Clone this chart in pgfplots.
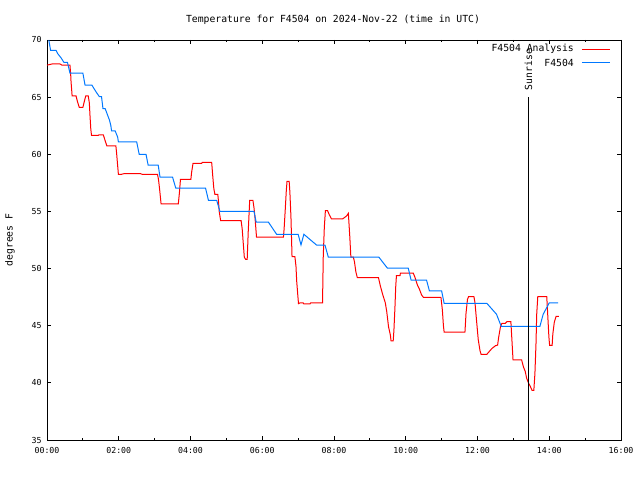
\documentclass[border=0pt]{standalone}
\usepackage{fontspec}
\setmainfont{DejaVu Sans Mono}
\usepackage{pgfplots}
\pgfplotsset{compat=1.18}
\definecolor{anred}{RGB}{255,0,0}
\definecolor{obsblue}{RGB}{0,120,255}
\begin{document}
\begin{tikzpicture}[x=1bp,y=1bp]
\useasboundingbox (0,0) rectangle (640,480);
\node[font=\fontsize{9.8}{11}\selectfont] at (333,460) {Temperature for F4504 on 2024-Nov-22 (time in UTC)};
\node[font=\fontsize{9.8}{11}\selectfont, rotate=90] at (10,240) {degrees F};
\begin{axis}[
  at={(47bp,40bp)}, anchor=south west,
  scale only axis, width=574bp, height=400bp,
  xmin=0, xmax=16, ymin=35, ymax=70,
  axis line style={black, line width=0.8bp},
  xtick={0,2,4,6,8,10,12,14,16},
  xticklabels={00:00,02:00,04:00,06:00,08:00,10:00,12:00,14:00,16:00},
  minor xtick={1,3,5,7,9,11,13,15},
  ytick={35,40,45,50,55,60,65,70},
  tick align=inside,
  major tick length=4bp, minor tick length=2bp,
  tick style={black, line width=0.8bp},
  /pgf/number format/assume math mode=true,
  tick label style={font=\fontsize{8.3}{9}\selectfont},
  xticklabel style={yshift=-4bp},
  yticklabel style={xshift=-2bp},
  clip=false,
]
\addplot[anred, line width=1bp] coordinates {
(0,67.8)(0.14,67.9)(0.36,67.9)(0.42,67.8)(0.64,67.8)(0.66,67.0)(0.67,66.35)(0.69,65.54)(0.7,65.1)(0.81,65.1)(0.85,64.6)(0.9,64.1)(1.0,64.1)(1.05,64.75)(1.08,65.1)(1.15,65.1)(1.18,64.5)(1.2,63.3)(1.22,62.24)(1.24,61.66)(1.43,61.66)(1.45,61.7)(1.57,61.7)(1.62,61.2)(1.67,60.73)(1.92,60.73)(1.94,60.1)(1.96,59.35)(1.99,58.25)(2.08,58.25)(2.14,58.3)(2.61,58.3)(2.65,58.25)(3.08,58.25)(3.11,57.75)(3.14,56.9)(3.18,55.65)(3.66,55.65)(3.69,56.6)(3.72,57.8)(4.01,57.8)(4.03,58.4)(4.07,59.2)(4.31,59.2)(4.33,59.3)(4.59,59.3)(4.62,58.1)(4.65,57.0)(4.68,56.5)(4.76,56.5)(4.78,55.9)(4.8,55.0)(4.84,54.2)(5.41,54.2)(5.44,53.5)(5.46,52.65)(5.5,50.99)(5.54,50.8)(5.58,50.8)(5.61,53.3)(5.65,55.97)(5.74,55.97)(5.77,55.3)(5.8,54.4)(5.84,52.74)(6.59,52.74)(6.61,53.5)(6.64,55.1)(6.67,56.8)(6.69,57.63)(6.75,57.63)(6.77,56.7)(6.8,54.5)(6.83,51.04)(6.91,51.04)(6.94,50.2)(6.96,48.9)(6.99,47.7)(7.01,46.93)(7.05,47.0)(7.14,47.0)(7.16,46.9)(7.33,46.9)(7.35,47.0)(7.68,47.0)(7.7,51.0)(7.73,53.6)(7.76,55.07)(7.82,55.07)(7.87,54.7)(7.93,54.34)(8.24,54.34)(8.35,54.6)(8.4,54.83)(8.44,52.8)(8.47,51.0)(8.54,51.0)(8.57,50.6)(8.61,49.7)(8.65,49.2)(9.24,49.2)(9.29,48.5)(9.36,47.7)(9.43,47.0)(9.47,46.23)(9.52,44.9)(9.57,44.2)(9.59,43.67)(9.65,43.67)(9.67,44.6)(9.7,46.7)(9.72,48.4)(9.74,49.38)(9.84,49.38)(9.85,49.6)(10.21,49.6)(10.26,49.2)(10.32,48.6)(10.38,48.2)(10.44,47.7)(10.49,47.49)(10.98,47.49)(11.02,46.4)(11.05,45.0)(11.07,44.43)(11.65,44.43)(11.68,46.1)(11.72,47.3)(11.75,47.54)(11.9,47.54)(11.93,47.0)(11.98,45.2)(12.02,43.8)(12.07,42.8)(12.1,42.5)(12.26,42.5)(12.4,43.0)(12.5,43.25)(12.56,43.3)(12.59,44.0)(12.64,44.9)(12.68,45.2)(12.77,45.2)(12.82,45.35)(12.93,45.35)(12.96,43.7)(12.99,42.0)(13.23,42.0)(13.28,41.4)(13.33,41.0)(13.37,40.4)(13.42,40.0)(13.47,39.7)(13.52,39.35)(13.57,39.35)(13.6,40.8)(13.63,43.4)(13.65,46.0)(13.68,47.54)(13.93,47.54)(13.96,45.8)(13.99,44.0)(14.01,43.28)(14.08,43.28)(14.1,44.3)(14.14,45.3)(14.19,45.82)(14.27,45.82)
};
\addplot[obsblue, line width=1bp] coordinates {
(0.05,70)(0.1,69.1)(0.25,69.1)(0.3,68.8)(0.4,68.4)(0.47,68.05)(0.57,68.05)(0.64,67.1)(1.0,67.1)(1.06,66.06)(1.25,66.06)(1.3,65.8)(1.38,65.4)(1.46,65.04)(1.52,65.04)(1.56,64.0)(1.62,64.0)(1.68,63.5)(1.74,63.0)(1.78,62.5)(1.8,62.04)(1.9,62.04)(1.97,61.5)(1.99,61.08)(2.5,61.08)(2.57,60.0)(2.76,60.0)(2.82,59.04)(3.1,59.04)(3.15,58.0)(3.5,58.0)(3.59,57.03)(4.42,57.03)(4.5,55.97)(4.73,55.97)(4.82,55.0)(5.77,55.0)(5.83,54.07)(6.17,54.07)(6.4,53.0)(7.0,53.0)(7.08,52.07)(7.16,53.0)(7.52,52.04)(7.75,52.04)(7.84,51.01)(9.25,51.0)(9.49,50.03)(10.07,50.03)(10.15,48.98)(10.58,48.98)(10.66,48.04)(11.0,48.04)(11.07,46.96)(12.26,46.96)(12.53,46.0)(12.66,44.95)(13.74,44.95)(13.83,46.0)(14.0,47.0)(14.25,47.0)
};
% legend samples
\addplot[anred, line width=1bp] coordinates {(14.91,69.21)(15.69,69.21)};
\addplot[obsblue, line width=1bp] coordinates {(14.91,67.99)(15.69,67.99)};
\node[anchor=east, inner sep=0pt, font=\fontsize{9.8}{11}\selectfont] at (axis cs:14.69,69.21) {F4504 Analysis};
\node[anchor=east, inner sep=0pt, font=\fontsize{9.8}{11}\selectfont] at (axis cs:14.69,67.99) {F4504};
% sunrise marker
\addplot[black, line width=1bp] coordinates {(13.42,35)(13.42,65)};
\node[rotate=90, anchor=west, inner sep=0pt, font=\fontsize{9.8}{11}\selectfont] at (axis cs:13.42,65.6) {Sunrise};
\end{axis}
\end{tikzpicture}
\end{document}
